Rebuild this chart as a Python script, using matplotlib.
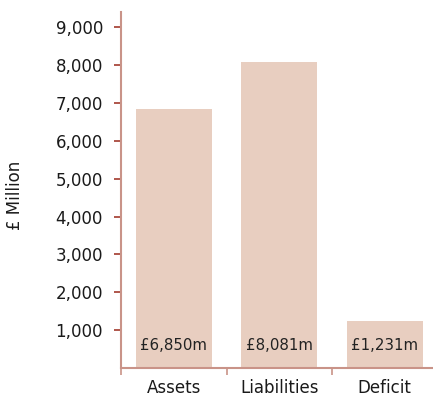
import matplotlib
matplotlib.use("Agg")
import matplotlib.pyplot as plt

categories = ["Assets", "Liabilities", "Deficit"]
values = [6850, 8081, 1231]
bar_labels = ["£6,850m", "£8,081m", "£1,231m"]
yticks = [1000, 2000, 3000, 4000, 5000, 6000, 7000, 8000, 9000]

W, H = 433, 396
fig = plt.figure(figsize=(W / 100, H / 100), dpi=100)
# axes placed in pixel terms: left 121, right 432, bottom 368, top 12
ax = fig.add_axes([121 / W, 28 / H, 311 / W, 356 / H])

bar_color = "#e8cec0"
spine_color = "#c99388"
tick_color = "#a23a2c"

x = range(len(categories))
ax.bar(x, values, width=0.72, color=bar_color, zorder=2)

for xi, lab in zip(x, bar_labels):
    ax.text(xi, 600, lab, ha="center", va="center", fontsize=10.8, color="#222222", zorder=3)

ax.set_xlim(-0.5, -0.5 + 311 / 105.5)
ax.set_ylim(0, 9400)

ax.set_yticks(yticks)
ax.set_yticklabels([f"{v:,}" for v in yticks], fontsize=12, color="#1a1a1a")
ax.set_xticks([0, 1, 2])
ax.set_xticklabels(categories, fontsize=12, color="#1a1a1a")
ax.set_xticks([-0.5, 0.5, 1.5], minor=True)

ax.tick_params(axis="y", length=5, width=1.2, color=tick_color, pad=8)
ax.tick_params(axis="x", which="major", length=0, pad=8)
ax.tick_params(axis="x", which="minor", length=5, width=1.2, color=spine_color)

for side in ["top", "right"]:
    ax.spines[side].set_visible(False)
for side in ["left", "bottom"]:
    ax.spines[side].set_color(spine_color)
    ax.spines[side].set_linewidth(1.5)

fig.text(15 / W, 1 - 195 / H, "£ Million", rotation=90, ha="center", va="center",
         fontsize=12, color="#1a1a1a")

fig.savefig("out.png", dpi=100)
